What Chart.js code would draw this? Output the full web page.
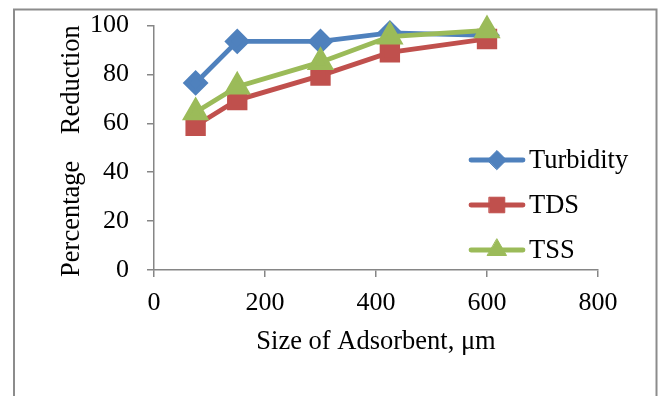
<!DOCTYPE html>
<html>
<head>
<meta charset="utf-8">
<script src="https://cdn.jsdelivr.net/npm/chart.js@4/dist/chart.umd.min.js"></script>
<style>
  body { margin: 0; background: #fff; }
  canvas { display: block; }
</style>
</head>
<body>
<canvas id="adsorbChart" width="662" height="396"></canvas>
<script>
// Size of adsorbent (um) and percentage reduction for each parameter
const sizes = [75, 150, 300, 425, 600];
const turbidity = [76.5, 93.5, 93.5, 97, 96];
const tds = [59, 69.5, 79.5, 89, 94.5];
const tss = [64.5, 75, 85, 95.5, 98];

const xTicks = [0, 200, 400, 600, 800];
const yTicks = [0, 20, 40, 60, 80, 100];

const serif = '"Liberation Serif", "Times New Roman", serif';
const axisGray = '#868686';

function toPoints(values) {
    return sizes.map((s, i) => ({ x: s, y: values[i] }));
}

// Outer frame around the chart
const framePlugin = {
    id: 'frame',
    beforeDraw(chart) {
        const ctx = chart.ctx;
        ctx.save();
        ctx.fillStyle = '#fff';
        ctx.fillRect(0, 0, chart.width, chart.height);
        ctx.strokeStyle = '#8c8c8c';
        ctx.lineWidth = 2;
        ctx.strokeRect(14, 9.5, 642.5, 500);
        ctx.restore();
    }
};

// Legend drawn inside the plot, line + marker like Excel
const lineLegend = {
    id: 'lineLegend',
    afterDatasetsDraw(chart) {
        const ctx = chart.ctx;
        const rows = [160, 205, 250];
        ctx.save();
        chart.data.datasets.forEach((ds, i) => {
            const y = rows[i];
            ctx.strokeStyle = ds.borderColor;
            ctx.lineWidth = ds.borderWidth;
            ctx.lineCap = 'round';
            ctx.beginPath();
            ctx.moveTo(471, y);
            ctx.lineTo(523, y);
            ctx.stroke();
            ctx.fillStyle = ds.pointBackgroundColor;
            ctx.strokeStyle = ds.pointBorderColor;
            ctx.lineWidth = 1;
            Chart.helpers.drawPoint(ctx, {
                pointStyle: ds.pointStyle,
                radius: ds.pointRadius,
                rotation: 0,
                borderWidth: 1
            }, 497, y);
            ctx.fillStyle = '#000';
            ctx.font = '26.5px ' + serif;
            ctx.textAlign = 'left';
            ctx.textBaseline = 'middle';
            ctx.fillText(ds.label, 529, y + 1);
        });
        ctx.restore();
    }
};

const ctx = document.getElementById('adsorbChart').getContext('2d');
const adsorbChart = new Chart(ctx, {
    type: 'line',
    data: {
        datasets: [
            {
                label: 'Turbidity',
                data: toPoints(turbidity),
                borderColor: '#4F81BD',
                backgroundColor: '#4F81BD',
                pointBackgroundColor: '#4F81BD',
                pointBorderColor: '#4F81BD',
                borderWidth: 4.8,
                pointStyle: 'rectRot',
                pointRadius: 9.5,
                order: 3
            },
            {
                label: 'TDS',
                data: toPoints(tds),
                borderColor: '#C0504D',
                backgroundColor: '#C0504D',
                pointBackgroundColor: '#C0504D',
                pointBorderColor: '#C0504D',
                borderWidth: 4.8,
                pointStyle: 'rect',
                pointRadius: 11,
                order: 2
            },
            {
                label: 'TSS',
                data: toPoints(tss),
                borderColor: '#9BBB59',
                backgroundColor: '#9BBB59',
                pointBackgroundColor: '#9BBB59',
                pointBorderColor: '#9BBB59',
                borderWidth: 4.8,
                pointStyle: 'triangle',
                pointRadius: 11,
                order: 1
            }
        ]
    },
    options: {
        responsive: false,
        animation: false,
        devicePixelRatio: 1,
        clip: false,
        tension: 0,
        layout: {
            padding: { left: 0, top: 25.5, right: 64, bottom: 0 }
        },
        plugins: {
            legend: { display: false },
            tooltip: { enabled: false }
        },
        scales: {
            x: {
                type: 'linear',
                min: 0,
                max: 800,
                afterBuildTicks: (scale) => { scale.ticks = xTicks.map(v => ({ value: v })); },
                afterFit: (scale) => {
                    scale.height = 126;
                    scale.paddingLeft = 0;
                    scale.paddingRight = 0;
                },
                ticks: {
                    color: '#000',
                    padding: 11,
                    font: { family: serif, size: 26 }
                },
                grid: {
                    drawOnChartArea: false,
                    drawTicks: true,
                    tickLength: 7,
                    color: axisGray,
                    lineWidth: 1.5
                },
                border: { color: axisGray, width: 1.5 },
                title: {
                    display: true,
                    text: 'Size of Adsorbent, μm',
                    color: '#000',
                    font: { family: serif, size: 26.5 },
                    padding: { top: 0, bottom: 38.5 }
                }
            },
            y: {
                min: 0,
                max: 100,
                afterBuildTicks: (scale) => { scale.ticks = yTicks.map(v => ({ value: v })); },
                afterFit: (scale) => {
                    scale.width = 154;
                    scale.paddingTop = 0;
                    scale.paddingBottom = 0;
                },
                ticks: {
                    color: '#000',
                    padding: 18,
                    font: { family: serif, size: 26 }
                },
                grid: {
                    drawOnChartArea: false,
                    drawTicks: true,
                    tickLength: 7,
                    color: axisGray,
                    lineWidth: 1.5
                },
                border: { color: axisGray, width: 1.5 },
                title: {
                    display: true,
                    text: 'Percentage    Reduction ',
                    color: '#000',
                    font: { family: serif, size: 26.5 },
                    padding: { top: 56, bottom: 0 }
                }
            }
        }
    },
    plugins: [framePlugin, lineLegend]
});
</script>
</body>
</html>
